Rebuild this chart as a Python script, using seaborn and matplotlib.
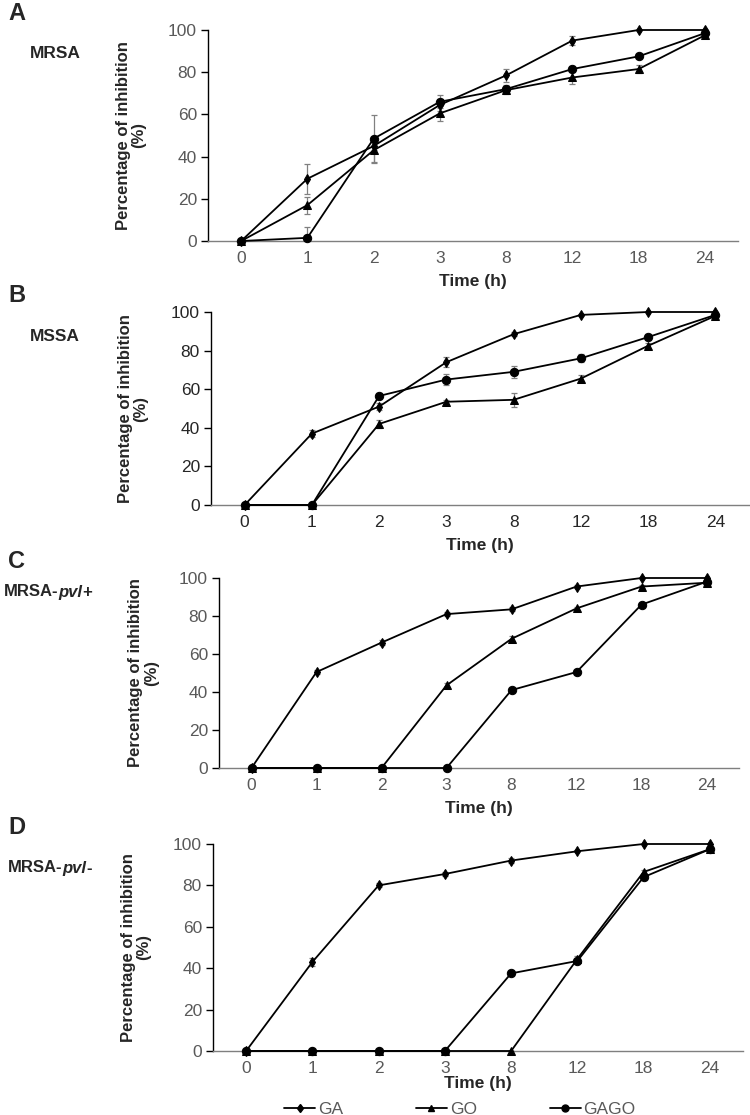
import matplotlib
matplotlib.use("Agg")
import matplotlib.pyplot as plt
from matplotlib.lines import Line2D
from matplotlib.offsetbox import TextArea, HPacker, AnnotationBbox
import seaborn as sns
import pandas as pd

# Time points (categorical axis, as in the original Excel chart)
times = ["0", "1", "2", "3", "8", "12", "18", "24"]
compounds = ["GA", "GO", "GAGO"]

# Panel A - MRSA
ga_a = [0, 29.5, 45, 64.5, 78.5, 95, 100, 100]
go_a = [0, 17, 43, 60.5, 71.5, 77.5, 81.5, 97.5]
gago_a = [0, 1.5, 48.5, 66, 72, 81.5, 87.5, 98.5]
ga_a_err = [0, 7, 2, 3, 3, 2, 0, 0]
go_a_err = [0, 4, 6, 3.5, 2, 3, 2, 0]
gago_a_err = [0, 5, 11, 3, 2, 1.5, 1, 0]

# Panel B - MSSA
ga_b = [0, 37, 51, 74, 88.5, 98.5, 100, 100]
go_b = [0, 0, 42, 53.5, 54.5, 65.5, 82.5, 98]
gago_b = [0, 0, 56.5, 65, 69, 76, 87, 98.5]
ga_b_err = [0, 2, 2, 2.5, 1, 0.5, 0, 0]
go_b_err = [0, 0, 2, 1, 3.5, 2, 1.5, 0]
gago_b_err = [0, 0, 1.5, 3, 3, 2, 1.5, 0]

# Panel C - MRSA-pvl+
ga_c = [0, 50.5, 66, 81, 83.5, 95.5, 100, 100]
go_c = [0, 0, 0, 43.5, 68, 84, 95.5, 97.5]
gago_c = [0, 0, 0, 0, 41, 50.5, 86, 98]
ga_c_err = [0, 1, 1.5, 1, 1, 1, 0, 0]
go_c_err = [0, 0, 0, 1, 1.5, 1, 1, 0]
gago_c_err = [0, 0, 0, 0, 1, 1, 1, 0]

# Panel D - MRSA-pvl-
ga_d = [0, 43, 80, 85.5, 92, 96.5, 100, 100]
go_d = [0, 0, 0, 0, 0, 44.5, 86.5, 97.5]
gago_d = [0, 0, 0, 0, 37.5, 43.5, 84, 97.5]
ga_d_err = [0, 2, 1, 1, 1, 0.5, 0, 0]
go_d_err = [0, 0, 0, 0, 0, 1.5, 1, 0]
gago_d_err = [0, 0, 0, 0, 1, 1, 1, 0]

sns.set_style("white")
plt.rcParams["font.family"] = ["Liberation Sans", "DejaVu Sans"]

W, H = 750, 1115
fig = plt.figure(figsize=(W / 100, H / 100), dpi=100)

marker_style = {"GA": ("d", 5.5), "GO": ("^", 5.5), "GAGO": ("o", 6)}
gray = "#595959"

panels = [
    ("A", "MRSA", None, (208, 738, 30, 241), gray, 6,
     [ga_a, go_a, gago_a], [ga_a_err, go_a_err, gago_a_err]),
    ("B", "MSSA", None, (211, 749, 312, 505), "#262626", 6,
     [ga_b, go_b, gago_b], [ga_b_err, go_b_err, gago_b_err]),
    ("C", "MRSA-", "+", (219, 739, 578, 768), gray, 6,
     [ga_c, go_c, gago_c], [ga_c_err, go_c_err, gago_c_err]),
    ("D", "MRSA-", "-", (213, 743, 844, 1051), gray, 0,
     [ga_d, go_d, gago_d], [ga_d_err, go_d_err, gago_d_err]),
]

for letter, strain, pvl_sign, (l, r, t, b), tick_col, xpad, series, errs in panels:
    ax = fig.add_axes([l / W, 1 - b / H, (r - l) / W, (b - t) / H])
    df = pd.DataFrame({
        "time": times * 3,
        "value": sum(series, []),
        "compound": [c for c in compounds for _ in times],
    })
    for comp, err in zip(compounds, errs):
        sub = df[df["compound"] == comp]
        ax.errorbar(sub["time"], sub["value"], yerr=err, fmt="none",
                    ecolor="#808080", elinewidth=0.9, capsize=2, capthick=0.9, zorder=1)
    for comp in compounds:
        sub = df[df["compound"] == comp]
        m, ms = marker_style[comp]
        sns.lineplot(data=sub, x="time", y="value", sort=False, color="black",
                     marker=m, markersize=ms, markeredgecolor="black",
                     linewidth=1.3, clip_on=False, zorder=3, ax=ax)

    ax.set_xlim(-0.5, 7.5)
    ax.set_ylim(0, 100)
    ax.set_yticks(range(0, 101, 20))
    sns.despine(ax=ax)
    ax.spines["left"].set_color("black")
    ax.spines["left"].set_linewidth(1.0)
    ax.spines["bottom"].set_color("#7f7f7f")
    ax.spines["bottom"].set_linewidth(1.0)
    ax.tick_params(axis="y", length=5, width=1, color="black", direction="out",
                   labelsize=12.5, labelcolor=tick_col, pad=3, left=True)
    ax.tick_params(axis="x", length=0, labelsize=12.5, labelcolor=tick_col, pad=7)
    ax.set_xlabel("Time (h)", fontsize=12.5, fontweight="bold", labelpad=xpad)
    ax.set_ylabel("")
    ax.text(-0.145, 0.5, "Percentage of inhibition\n(%)", transform=ax.transAxes,
            rotation=90, ha="center", va="center", multialignment="center",
            fontsize=12, fontweight="bold", linespacing=1.05)

    # panel letter
    fig.text(8 / W, 1 - (t - 16) / H, letter, fontsize=17, fontweight="bold",
             ha="left", va="center")

    # strain name
    name_y = 1 - (t + 24) / H
    if pvl_sign is None:
        fig.text(30 / W, name_y, strain, fontsize=12.5, fontweight="bold",
                 ha="left", va="center")
    else:
        parts = [TextArea(strain, textprops=dict(fontsize=12, fontweight="bold")),
                 TextArea("pvl", textprops=dict(fontsize=12, fontweight="bold", style="italic")),
                 TextArea(pvl_sign, textprops=dict(fontsize=12, fontweight="bold"))]
        box = HPacker(children=parts, align="baseline", pad=0, sep=0)
        x0 = 4 if pvl_sign == "+" else 8
        ab = AnnotationBbox(box, (x0 / W, 1 - (t + 14) / H if pvl_sign == "+" else name_y),
                            xycoords="figure fraction", box_alignment=(0, 0.5),
                            frameon=False, pad=0)
        fig.add_artist(ab)

handles = [Line2D([], [], color="black", marker=marker_style[c][0],
                  markersize=marker_style[c][1] - 1, linewidth=1.3) for c in compounds]
fig.legend(handles, compounds, ncol=3, loc="center", bbox_to_anchor=(0.613, 0.005),
           frameon=False, handlelength=1.8, handletextpad=0.15, columnspacing=4.2,
           fontsize=12.5, labelcolor=gray, borderpad=0, borderaxespad=0)

fig.savefig("out.png", dpi=100)
